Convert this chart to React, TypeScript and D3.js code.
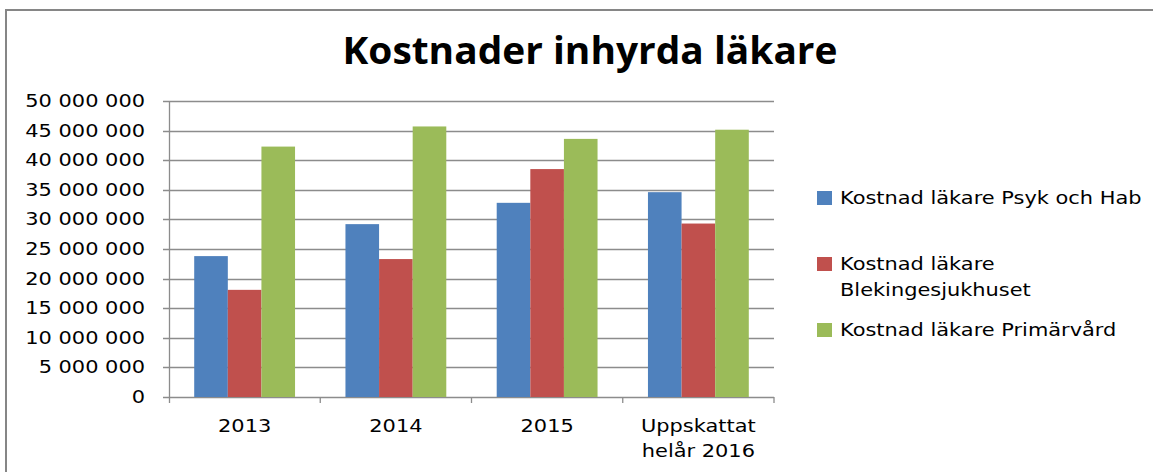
import React from "react";
import * as d3 from "d3";

const categories = ["2013", "2014", "2015", "Uppskattat\nhelår 2016"];
const seriesNames = [
  "Kostnad läkare Psyk och Hab",
  "Kostnad läkare\nBlekingesjukhuset",
  "Kostnad läkare Primärvård",
];
const psykHab = [23800000, 29200000, 32800000, 34600000];
const bleking = [18100000, 23300000, 38500000, 29300000];
const primar = [42300000, 45700000, 43600000, 45150000];
const yTicks = [0, 5000000, 10000000, 15000000, 20000000, 25000000, 30000000, 35000000, 40000000, 45000000, 50000000];
const colors = ["#4F81BD", "#C0504D", "#9BBB59"];

const W = 1153;
const H = 472;
const fmt = (v: number) => d3.format(",")(v).replace(/,/g, " ");

export default function App() {
  const series = [psykHab, bleking, primar];
  const left = 169, right = 774, top = 101, bottom = 397;
  const x = d3.scaleBand().domain(categories).range([left, right]).paddingInner(0).paddingOuter(0);
  const inner = d3.scaleBand().domain(["0", "1", "2"]).range([0, x.bandwidth()]).paddingInner(0).paddingOuter(0.75);
  const y = d3.scaleLinear().domain([0, 50000000]).range([bottom, top]);
  const font = "'DejaVu Sans', sans-serif";
  const sx = 1.23;
  const label = (txt: string, tx: number, ty: number, anchor: string, key?: any) => (
    <text key={key} transform={`translate(${tx},${ty}) scale(${sx},1)`} textAnchor={anchor} fontFamily={font} fontSize={17} fill="#000">{txt}</text>
  );
  const legendY = [198, 264, 330];
  return (
    <div style={{ position: "absolute", left: 0, top: 0 }}>
      <svg width={W} height={H} style={{ display: "block", background: "#fff" }}>
        <rect x={0} y={0} width={W} height={H} fill="#fff" />
        <line x1={6} x2={6} y1={10} y2={H} stroke="#868686" strokeWidth={2} />
        <line x1={5} x2={W} y1={10} y2={10} stroke="#868686" strokeWidth={2} />
        <text x={590} y={64} textAnchor="middle" fontFamily="'Open Sans', sans-serif" fontWeight="bold" fontSize={37} textLength={495} lengthAdjust="spacingAndGlyphs">Kostnader inhyrda läkare</text>
        {yTicks.map((t) => (
          <g key={t}>
            <line x1={left - 6} x2={right} y1={Math.round(y(t)) + 0.5} y2={Math.round(y(t)) + 0.5} stroke="#8c8c8c" strokeWidth={1.3} />
            {label(fmt(t), 145, y(t) + 6, "end")}
          </g>
        ))}
        <line x1={left + 0.5} x2={left + 0.5} y1={top} y2={bottom + 6} stroke="#8c8c8c" strokeWidth={1.3} />
        {categories.map((c) => (
          <line key={c} x1={(x(c) as number) + x.bandwidth()} x2={(x(c) as number) + x.bandwidth()} y1={bottom} y2={bottom + 6} stroke="#8c8c8c" strokeWidth={1.3} />
        ))}
        {series.map((vals, si) =>
          vals.map((v, ci) => (
            <rect key={`${si}-${ci}`} x={(x(categories[ci]) as number) + (inner(String(si)) as number)} y={y(v)} width={inner.bandwidth()} height={bottom - y(v)} fill={colors[si]} />
          ))
        )}
        {categories.map((c) => {
          const lines = c.split("\n");
          const cx = (x(c) as number) + x.bandwidth() / 2;
          return <g key={c}>{lines.map((l, li) => label(l, cx, 432 + li * 25, "middle", li))}</g>;
        })}
        {seriesNames.map((n, i) => (
          <g key={n}>
            <rect x={817} y={legendY[i] - 7} width={15} height={14} fill={colors[i]} />
            {n.split("\n").map((l, li) => label(l, 840, legendY[i] + 6 + li * 26, "start", li))}
          </g>
        ))}
      </svg>
    </div>
  );
}
